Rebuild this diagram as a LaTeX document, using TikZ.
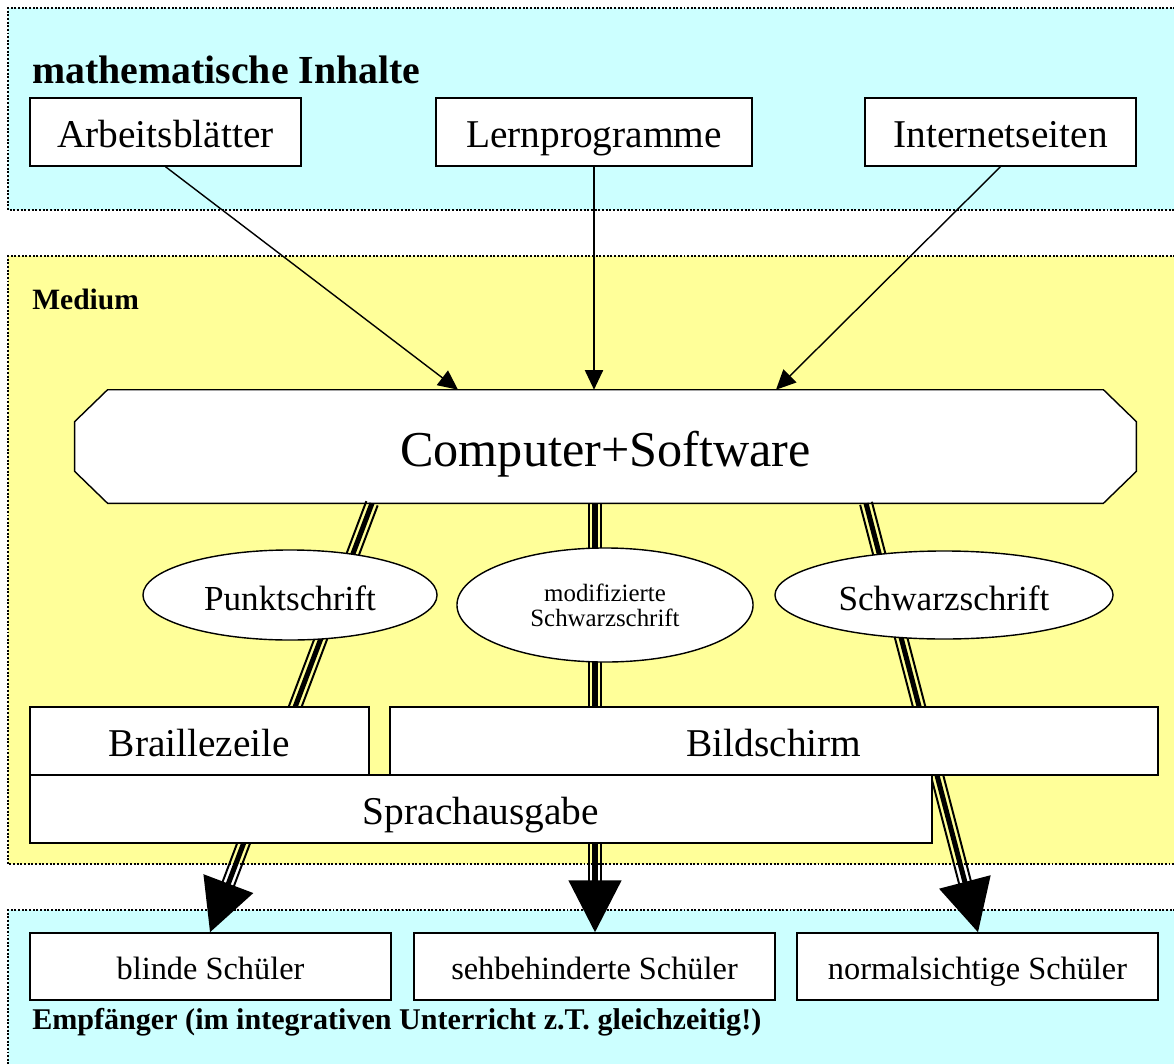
\documentclass[tikz,border=0pt]{standalone}
\usepackage{fontspec}
\setmainfont{Liberation Serif}
\usetikzlibrary{arrows.meta,positioning,calc,shapes.geometric}
\pgfdeclarelayer{bg}
\pgfdeclarelayer{wires}
\pgfsetlayers{bg,wires,main}
\definecolor{infocyan}{HTML}{CCFFFF}
\definecolor{mediumyellow}{HTML}{FFFF99}
\newcommand{\fsize}[1]{\fontsize{#1}{#1}\selectfont}
% three parallel strokes, the middle one carries the big head
\newcommand{\railto}[2]{%
  \draw[core] (#1) -- (#2);
  \draw[rail] ($(#1)!4.3pt!90:(#2)$) -- ($(#2)!4.3pt!-90:(#1)$);
  \draw[rail] ($(#1)!4.3pt!-90:(#2)$) -- ($(#2)!4.3pt!90:(#1)$);}

\begin{document}
\begin{tikzpicture}[x=0.025cm,y=-0.025cm,
    box/.style={rectangle,draw,fill=white,line width=1pt,inner sep=0pt,minimum height=1.7cm,
                font=\fsize{28},text height=22.4pt,text depth=0pt},
    small box/.style={box,minimum height=1.675cm,minimum width=9.025cm,
                font=\fsize{23},text height=18.4pt},
    oval/.style={ellipse,draw,fill=white,line width=1pt,inner sep=0pt,align=center},
    region/.style={line width=1.3pt,dash pattern=on 1.4pt off 1.2pt},
    title/.style={anchor=base west,inner sep=0pt},
    feed/.style={-{Triangle[length=14pt,width=13pt]},line width=1pt},
    core/.style={-{Triangle[length=37pt,width=37pt]},line width=3.6pt},
    rail/.style={line width=1.4pt,shorten >=30pt}]

  \useasboundingbox (0,0) rectangle (1174,1063);

  % Quellen
  \node[title,font=\bfseries\fsize{28.3}] (inhalte) at (32,84) {mathematische Inhalte};
  \node[box,minimum width=6.775cm] (arbeit) at (165.5,132) {Arbeitsblätter};
  \node[box,minimum width=7.9cm] (lern) at (594,132) {Lernprogramme};
  \node[box,minimum width=6.775cm] (inet) at (1000.5,132) {Internetseiten};

  % Medium
  \node[title,font=\bfseries\fsize{21}] (medium) at (32,309) {Medium};
  \node[rectangle,inner sep=0pt,minimum width=26.525cm,minimum height=2.825cm,
        font=\fsize{35.7},text height=28.6pt,text depth=0pt]
        (cs) at (605.5,446.5) {Computer+Software};
  \node[oval,minimum width=7.35cm,minimum height=2.25cm,font=\fsize{25},
        text height=21.5pt,text depth=0pt] (punkt) at (290,595) {Punktschrift};
  \node[oval,minimum width=7.4cm,minimum height=2.85cm,font=\fsize{17.7}] (modi) at (605,605) {modifizierte\\Schwarzschrift};
  \node[oval,minimum width=8.45cm,minimum height=2.2cm,font=\fsize{25},
        text height=21.5pt,text depth=0pt] (schwarz) at (944,595) {Schwarzschrift};
  \node[box,minimum width=8.475cm] (braille) at (199.5,741) {Braillezeile};
  \node[box,minimum width=19.2cm] (bild) at (774,741) {Bildschirm};
  \node[box,minimum width=22.55cm] (sprach) at (481,809) {Sprachausgabe};

  % Empfaenger
  \node[small box] (blind) at (210.5,966.5) {blinde Schüler};
  \node[small box] (sehb) at (594.5,966.5) {sehbehinderte Schüler};
  \node[small box] (normal) at (977.5,966.5) {normalsichtige Schüler};
  \node[title,font=\bfseries\fsize{21.4}] (empf) at (32,1029) {Empfänger (im integrativen Unterricht z.T. gleichzeitig!)};

  \begin{pgfonlayer}{bg}
    \fill[infocyan] (8,8) rectangle (1190,210);
    \draw[region] (1190,8) -- (8,8) -- (8,210) -- (1190,210);
    \fill[mediumyellow] (8,256) rectangle (1190,864);
    \draw[region] (1190,256) -- (8,256) -- (8,864) -- (1190,864);
    \fill[infocyan] (8,910) rectangle (1190,1080);
    \draw[region,line width=1pt] (1190,910) -- (8,910) -- (8,1080);
    % octagon round Computer+Software
    \draw[fill=white,line width=1pt]
      ([xshift=0.825cm]cs.north west) -- ([xshift=-0.825cm]cs.north east)
      -- ([yshift=-0.8cm]cs.north east) -- ([yshift=0.8cm]cs.south east)
      -- ([xshift=-0.825cm]cs.south east) -- ([xshift=0.825cm]cs.south west)
      -- ([yshift=0.8cm]cs.south west) -- ([yshift=-0.8cm]cs.north west) -- cycle;
  \end{pgfonlayer}

  \begin{pgfonlayer}{wires}
    \draw[feed] (arbeit.south) -- (458,0 |- cs.north);
    \draw[feed] (lern.south) -- (lern.south |- cs.north);
    \draw[feed] (inet.south) -- (776,0 |- cs.north);
    \coordinate (outL) at (372,0 |- cs.south);
    \coordinate (outM) at (595,0 |- cs.south);
    \coordinate (outR) at (866,0 |- cs.south);
    \coordinate (inL) at (210,0 |- blind.north);
    \coordinate (inM) at (595,0 |- sehb.north);
    \coordinate (inR) at (978,0 |- normal.north);
    \railto{outL}{inL}
    \railto{outM}{inM}
    \railto{outR}{inR}
  \end{pgfonlayer}
\end{tikzpicture}
\end{document}
